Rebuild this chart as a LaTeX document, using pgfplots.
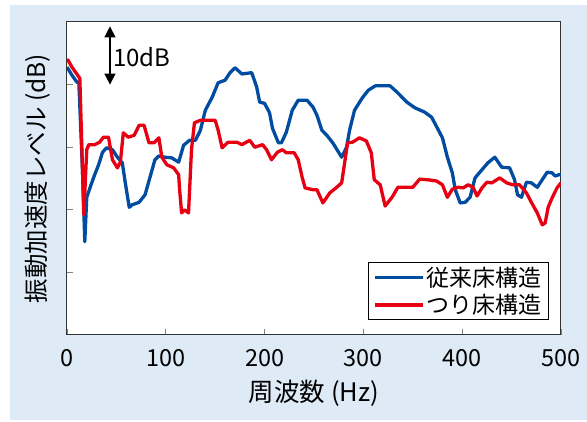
\documentclass[border=0pt]{standalone}
\usepackage{pgfplots}
\pgfplotsset{compat=1.18}
\usepackage{fontspec}
\setmainfont{Noto Sans CJK JP}
\usetikzlibrary{arrows.meta}
\definecolor{bg}{RGB}{222,235,247}
\definecolor{cblue}{RGB}{0,76,160}
\definecolor{cred}{RGB}{230,0,18}
\begin{document}
\begin{tikzpicture}[x=1pt,y=1pt]
\path[fill=white] (0,0) rectangle (587,422);
\fill[bg] (10,2) rectangle (587,417);
\begin{axis}[
  at={(67pt,87pt)}, anchor=south west,
  width=494pt, height=313pt, scale only axis,
  xmin=0,xmax=500,ymin=0,ymax=50,
  xtick={0,100,...,500},
  ytick={10,20,30,40}, yticklabels={},
  tick align=inside, xtick pos=bottom, ytick pos=left,
  major tick length=6pt,
  tick style={gray, line width=0.8pt},
  axis line style={line width=1pt, black!80},
  xticklabel style={font=\fontsize{23.5}{23.5}\selectfont, anchor=center, yshift=-23pt},
  /pgf/number format/assume math mode=true,
  xlabel={周波数 (Hz)}, ylabel={振動加速度レベル (dB)},
  xlabel style={font=\fontsize{25.5}{25.5}\selectfont, at={(axis description cs:0.5,-0.185)}, anchor=center},
  ylabel style={font=\fontsize{24.5}{24.5}\selectfont, at={(axis description cs:-0.0587,0.5)}, anchor=center},
  axis background/.style={fill=white},
  legend style={at={(0.976,0.048)}, anchor=south east, draw=black, line width=1pt, fill=white,
    font=\fontsize{23}{23}\selectfont, inner xsep=5pt, inner ysep=2pt, row sep=3pt, cells={anchor=west}},
  legend image code/.code={\draw[#1] (0pt,0pt) -- (48pt,0pt);},
]
\addplot[cblue, line width=3.3pt, line join=round] coordinates {
(0,42.8)(5,41.5)(10,40.4)(12,40.3)(16,25)(18,14.9)(20,22)(25,24.3)(28,25.6)(32,27.2)(36,29.2)(40,29.9)(46,29.6)(51,28.4)(56,27.5)(59,24.3)(63,20.4)(66,20.8)(73,21.2)(79,22.4)(84,25.2)(89,28)(93,28.6)(99,28.4)(106,28.3)(113,27.6)(118,30.3)(124,31.1)(130,31.1)(135,32.7)(140,35.9)(147,38)(153,40.3)(160,40.7)(165,41.9)(170,42.7)(177,41.7)(187,41.9)(192,39.6)(195,37.2)(200,37)(205,35.5)(208,33)(214,30.7)(217,30.7)(222,32.4)(228,35.9)(234,37.5)(243,37.5)(249,36.4)(253,35.1)(258,32.7)(263,31.9)(269,30.7)(278,28.4)(283,30)(286,32.7)(291,35.9)(299,37.9)(305,39.1)(312,39.8)(327,39.8)(334,38.8)(344,37.2)(352,36.3)(362,35.6)(369,34.8)(375,33)(380,31.5)(385,28.4)(390,25.9)(393,23.2)(398,21.1)(403,21.2)(408,22)(413,25.1)(420,26.4)(426,27.5)(433,28.4)(440,26.8)(448,26.7)(453,24.8)(456,22.4)(460,22)(465,24.4)(470,24.3)(476,23.6)(481,24.8)(486,26)(491,25.9)(494,25.4)(498,25.6)(500,25.6)
};
\addlegendentry{従来床構造}
\addplot[cred, line width=3.3pt, line join=round] coordinates {
(0,44)(1,43.9)(5,42.8)(13,41)(17,19.2)(20,29.6)(22,30.4)(28,30.4)(33,30.8)(37,31.6)(42,31.6)(46,28)(51,26.7)(54,27.6)(57,32.3)(62,31.6)(68,31.9)(73,33.5)(78,33.5)(83,30.7)(88,30.7)(93,31.5)(96,28.4)(101,27.2)(108,26.7)(113,25.6)(114,23.2)(116,19.5)(119,20)(123,19.5)(126,29.6)(129,33.9)(135,34.3)(150,34.3)(153,32.7)(157,29.9)(163,30.8)(172,30.8)(177,30.4)(185,31.1)(190,30)(198,30.4)(202,29.6)(207,28)(213,29.2)(218,29.6)(222,29.1)(230,29.1)(234,28)(238,25.2)(241,23.5)(249,23.2)(253,23.2)(259,21.1)(266,22.7)(273,23.6)(278,24.3)(281,27.5)(284,30.7)(289,30.8)(296,31.5)(303,31)(308,29.1)(311,24.8)(317,24)(322,20.6)(329,22)(335,23.6)(350,23.6)(357,24.9)(365,24.8)(374,24.6)(380,24)(385,22)(390,23.3)(396,23.6)(401,23.5)(406,24)(411,23.6)(415,22.2)(420,23.5)(425,24.4)(430,24.3)(438,25.1)(445,24.3)(451,24)(458,24)(465,22.7)(470,21.2)(476,19.5)(481,17.6)(484,17.9)(487,20.4)(491,21.9)(496,23.5)(500,24.3)
};
\addlegendentry{つり床構造}
\draw[{Triangle[width=11pt,length=11pt]}-{Triangle[width=11pt,length=11pt]}, line width=1.5pt] (axis cs:43.5,49.3) -- (axis cs:43.5,40);
\node[anchor=west, font=\fontsize{24}{24}\selectfont, inner sep=0pt] at (axis cs:46.5,44.4) {10dB};
\end{axis}
\end{tikzpicture}
\end{document}
